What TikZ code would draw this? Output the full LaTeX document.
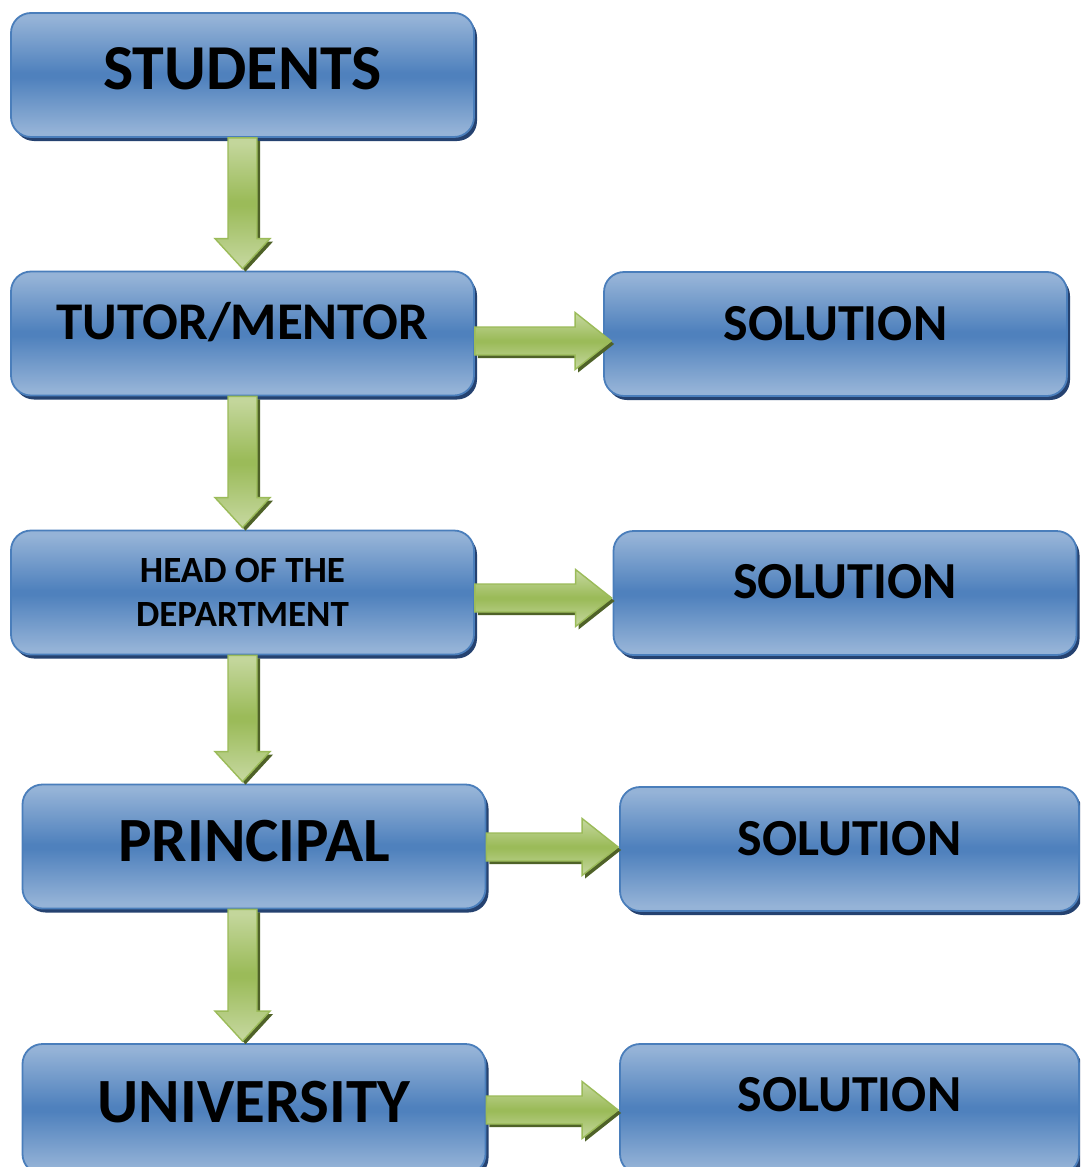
\documentclass[tikz,border=0pt]{standalone}
\usepackage{fontspec}
\setmainfont{Carlito}
\usetikzlibrary{calc,shadows}

\definecolor{boxlight}{HTML}{95B3D7}
\definecolor{boxdark}{HTML}{4F81BD}
\definecolor{boxline}{HTML}{4A7EBB}
\definecolor{boxshadow}{HTML}{254270}
\definecolor{greenlight}{HTML}{C3D69B}
\definecolor{greendark}{HTML}{9BBB59}
\definecolor{greenline}{HTML}{9BBB59}
\definecolor{greenshadow}{HTML}{4F6228}

% light - dark - light bands; the middle 25bp..75bp covers the path
\pgfdeclareverticalshading{boxfill}{100bp}{color(0bp)=(boxlight); color(27bp)=(boxlight); color(49bp)=(boxdark); color(51bp)=(boxdark); color(73bp)=(boxlight); color(100bp)=(boxlight)}
\pgfdeclareverticalshading{greenfill}{100bp}{color(0bp)=(greenlight); color(27bp)=(greenlight); color(49bp)=(greendark); color(51bp)=(greendark); color(73bp)=(greenlight); color(100bp)=(greenlight)}

\tikzset{
  box/.style={rectangle, rounded corners=20pt, minimum width=463pt,
    minimum height=124pt, inner sep=0pt, draw=boxline, line width=1.8pt,
    shade, shading=boxfill,
    drop shadow={shadow xshift=3pt, shadow yshift=-4pt, fill=boxshadow, opacity=1}},
  label size/.style={font=\bfseries\fontsize{#1}{#1}\selectfont},
  caps/.style 2 args={text height=#1, text depth=#2},
  flow/.style={draw=greenline, line width=1.4pt, line join=miter,
    shade, shading=greenfill,
    drop shadow={shadow xshift=3pt, shadow yshift=-3pt, fill=greenshadow, opacity=1}}
}

% wide downward arrow on the spine, from the bottom of #1 to the top of #2
\newcommand\fatdown[2]{%
  \coordinate (s) at (spine |- #1.south);
  \coordinate (e) at (spine |- #2.north);
  \path[flow] ($(s)+(-14.5,0)$) -- ($(e)+(-14.5,-32)$) -- ($(e)+(-27.5,-32)$)
    -- ($(e)+(0,-2)$) -- ($(e)+(27.5,-32)$) -- ($(e)+(14.5,-32)$)
    -- ($(s)+(14.5,0)$) -- cycle;}

% wide rightward arrow from #1 to #2 at height #3, tip moved #4 past the left edge of #2
\newcommand\fatright[4]{%
  \coordinate (s) at (#1.east |- 0,#3);
  \coordinate (e) at ($(#2.west |- 0,#3)+(#4,0)$);
  \path[flow] ($(s)+(0,-14)$) -- ($(e)+(-36,-14)$) -- ($(e)+(-36,-28.5)$)
    -- (e) -- ($(e)+(-36,28.5)$) -- ($(e)+(-36,14)$)
    -- ($(s)+(0,14)$) -- cycle;}

\begin{document}
\begin{tikzpicture}[x=1pt, y=-1pt]
  \useasboundingbox (0,0) rectangle (1080,1167);
  \clip (0,0) rectangle (1080,1167);
  \fill[white] (0,0) rectangle (1080,1167);
  \coordinate (spine) at (242.5,0);

  % left column
  \node[box, label size=64, caps={41pt}{12pt}] (students) at (242.5,75) {STUDENTS};
  \node[box, label size=53, caps={34pt}{22pt}] (tutor) at (242.5,333.5) {TUTOR/MENTOR};
  \node[box, align=center, font=\bfseries\fontsize{37}{44}\selectfont] (head) at (242.5,592.5) {HEAD OF THE\\DEPARTMENT};
  \node[box, label size=63, caps={40.6pt}{11pt}] (principal) at (254,846.5) {PRINCIPAL};
  \node[box, minimum height=130pt, label size=63, caps={40.6pt}{14pt}] (university) at (254,1109) {UNIVERSITY};

  % right column
  \node[box, label size=52, caps={33.5pt}{21pt}] (sol1) at (835.5,334) {SOLUTION};
  \node[box, label size=52, caps={33.5pt}{23pt}] (sol2) at (845,593) {SOLUTION};
  \node[box, minimum width=459pt, label size=52, caps={33.5pt}{21pt}] (sol3) at (849.5,849) {SOLUTION};
  \node[box, minimum width=459pt, minimum height=130pt, label size=52, caps={33.5pt}{29pt}] (sol4) at (849.5,1109) {SOLUTION};

  % connectors
  \fatdown{students}{tutor}
  \fatdown{tutor}{head}
  \fatdown{head}{principal}
  \fatdown{principal}{university}

  \fatright{tutor}{sol1}{341}{8}
  \fatright{head}{sol2}{598}{-1}
  \fatright{principal}{sol3}{847}{-1}
  \fatright{university}{sol4}{1110}{-1}
\end{tikzpicture}
\end{document}
